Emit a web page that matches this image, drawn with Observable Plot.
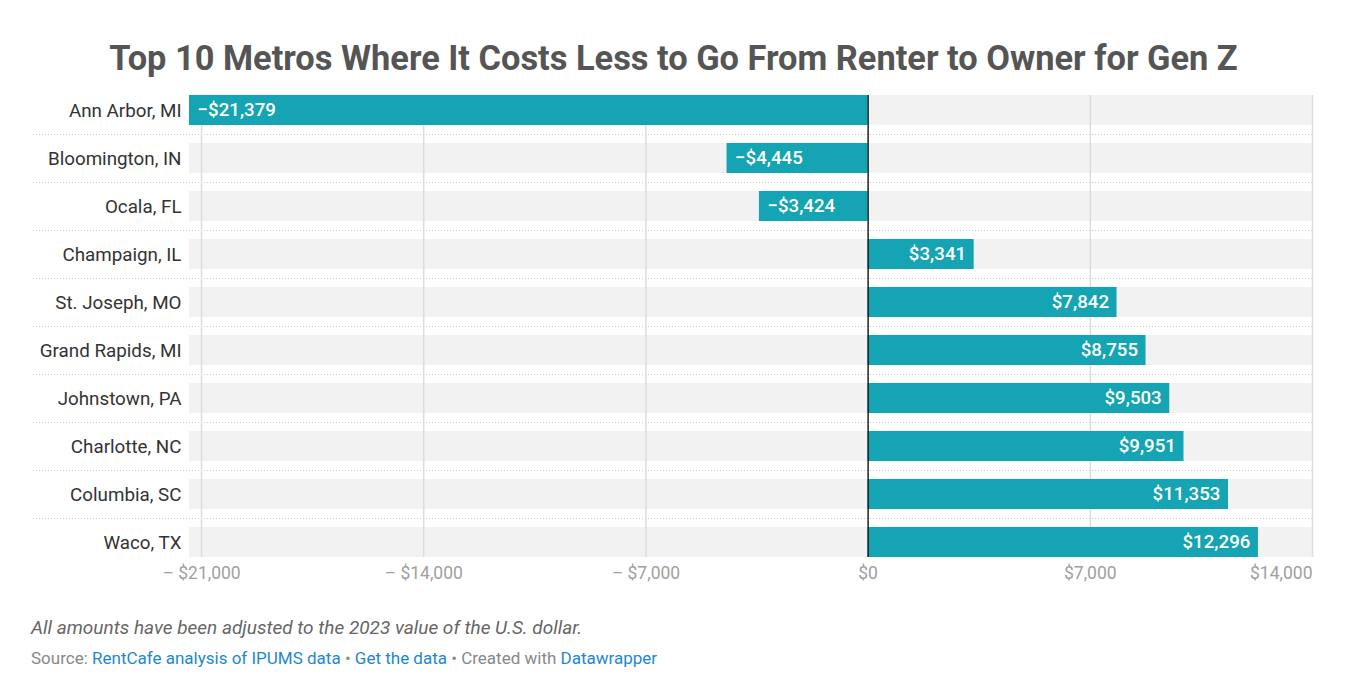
<!DOCTYPE html>
<html>
<head>
<meta charset="utf-8">
<script src="https://cdn.jsdelivr.net/npm/d3@7"></script>
<script src="https://cdn.jsdelivr.net/npm/@observablehq/plot@0.6"></script>
<style>
  html, body { margin: 0; padding: 0; background: #fff; font-family: Roboto, "Noto Sans", sans-serif; }
  #wrap { position: relative; width: 1355px; height: 697px; }
  #title { position: absolute; left: -4px; width: 1355px; top: 41px; text-align: center; font-size: 34.4px; line-height: 34px; font-weight: 700; color: #555; }
  #chart { position: absolute; left: 0; top: 80px; }
  #note { position: absolute; left: 31px; top: 618px; font-size: 19px; line-height: 20px; font-style: italic; color: #666; }
  #source { position: absolute; left: 31px; top: 649px; font-size: 17px; line-height: 18px; color: #888; }
  #source a { color: #1d88cf; text-decoration: none; }
</style>
</head>
<body>
<div id="wrap">
  <div id="title">Top 10 Metros Where It Costs Less to Go From Renter to Owner for Gen Z</div>
  <div id="chart"></div>
  <div id="note">All amounts have been adjusted to the 2023 value of the U.S. dollar.</div>
  <div id="source">Source: <a>RentCafe analysis of IPUMS data</a> • <a>Get the data</a> • Created with <a>Datawrapper</a></div>
</div>
<script>
const metros = ["Ann Arbor, MI", "Bloomington, IN", "Ocala, FL", "Champaign, IL", "St. Joseph, MO", "Grand Rapids, MI", "Johnstown, PA", "Charlotte, NC", "Columbia, SC", "Waco, TX"];
const values = [-21379, -4445, -3424, 3341, 7842, 8755, 9503, 9951, 11353, 12296];
const tickValues = [-21000, -14000, -7000, 0, 7000, 14000];

const data = metros.map((m, i) => ({metro: m, value: values[i]}));
const xMin = d3.min(values);
const xMax = d3.max(tickValues);
const num = d3.format(",");
const barLabel = d => (d.value < 0 ? "\u2212$" : "$") + num(Math.abs(d.value));
const tickLabel = t => t < 0 ? "\u2013 $" + num(-t) : "$" + num(t);

const teal = "#15a4b4";

const chart = Plot.plot({
  width: 1355,
  height: 512,
  marginTop: 15,
  marginBottom: 35,
  marginLeft: 189,
  marginRight: 43,
  style: {fontFamily: "Roboto, sans-serif", background: "transparent"},
  x: {domain: [xMin, xMax], axis: null},
  y: {domain: metros, paddingInner: 0.375, paddingOuter: 0, axis: null},
  marks: [
    Plot.barX(data, {y: "metro", x1: () => xMin, x2: () => xMax, fill: "#f2f2f2"}),
    Plot.ruleY(data.slice(0, -1), {y: "metro", dy: 24, stroke: "#c8c8c8", strokeDasharray: "1,2", insetLeft: -156}),
    Plot.ruleX(tickValues.filter(t => t !== 0), {x: d => d, stroke: "#dddddd", strokeWidth: 1.5}),
    Plot.barX(data, {y: "metro", x: "value", fill: teal}),
    Plot.ruleX([0], {x: d => d, stroke: "#111", strokeWidth: 1.4}),
    Plot.text(data.filter(d => d.value < 0), {y: "metro", x: "value", text: barLabel, textAnchor: "start", dx: 8, fill: "white", fontSize: 18.7, fontWeight: 500}),
    Plot.text(data.filter(d => d.value >= 0), {y: "metro", x: "value", text: barLabel, textAnchor: "end", dx: -8, fill: "white", fontSize: 18.7, fontWeight: 500}),
    Plot.text(metros, {y: d => d, frameAnchor: "left", textAnchor: "end", dx: -8, text: d => d, fill: "#333", fontSize: 18.8}),
    Plot.text(tickValues.slice(0, -1), {x: d => d, frameAnchor: "bottom", dy: 21, text: tickLabel, fill: "#a0a0a0", fontSize: 17.5}),
    Plot.text(tickValues.slice(-1), {x: d => d, frameAnchor: "bottom", dy: 21, text: tickLabel, textAnchor: "end", fill: "#a0a0a0", fontSize: 17.5})
  ]
});
document.getElementById("chart").appendChild(chart);
</script>
</body>
</html>
